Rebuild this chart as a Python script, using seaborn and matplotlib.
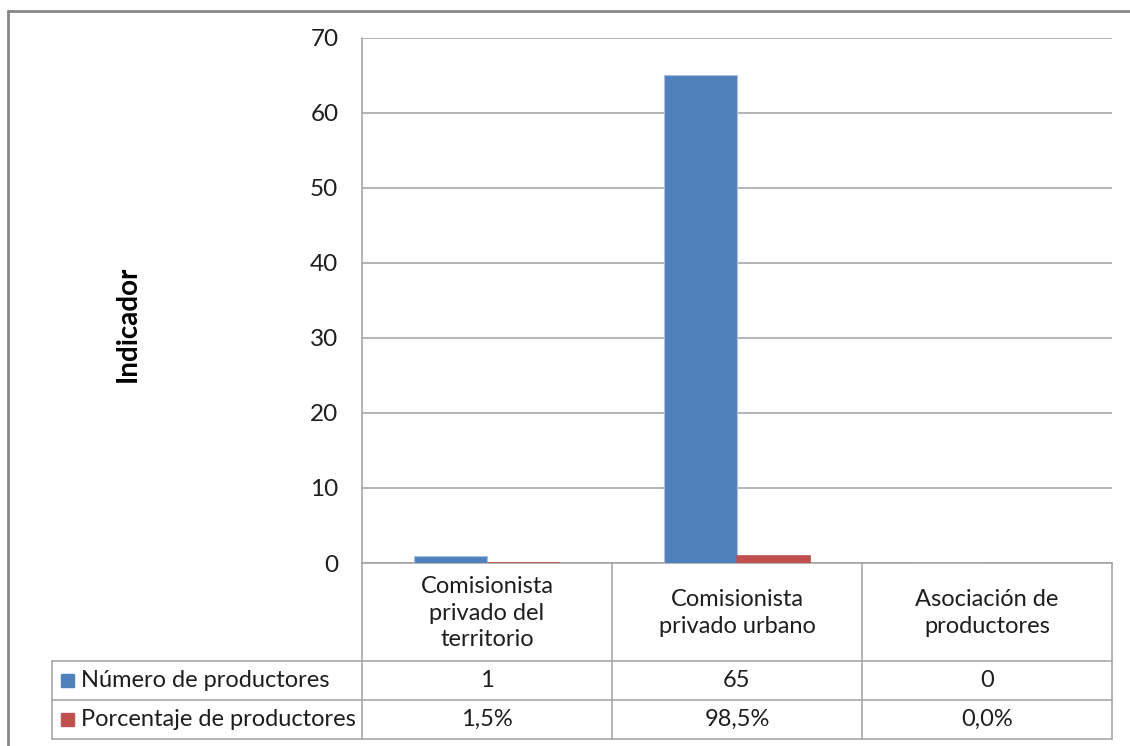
import numpy as np
import pandas as pd
import seaborn as sns
from matplotlib import pyplot as plt
from matplotlib.lines import Line2D
from matplotlib.patches import Rectangle
from matplotlib.transforms import blended_transform_factory

# datos del grafico
categorias = ["Comisionista privado del territorio",
              "Comisionista privado urbano",
              "Asociación de productores"]
etiquetas = ["Comisionista\nprivado del\nterritorio",
             "Comisionista\nprivado urbano",
             "Asociación de\nproductores"]
series = ["Número de productores", "Porcentaje de productores"]
numero = [1, 65, 0]
porcentaje = [0.015, 0.985, 0.0]
yticks = [0, 10, 20, 30, 40, 50, 60, 70]

colores = ["#4F81BD", "#C0504D"]
gris = "#A0A0A0"
texto = "#1E1E1E"

df = pd.DataFrame({
    "categoria": categorias * 2,
    "serie": [series[0]] * 3 + [series[1]] * 3,
    "valor": numero + porcentaje,
})

sns.set_style("white")
plt.rcParams['font.family'] = ['Lato', 'DejaVu Sans']

W, H = 1130, 746
fig = plt.figure(figsize=(W / 100, H / 100), dpi=100)
ax = fig.add_axes([362 / W, 1 - 563 / H, (1112 - 362) / W, (563 - 38) / H])

sns.barplot(data=df, x="categoria", y="valor", hue="serie", palette=colores,
            width=0.584, saturation=1, ax=ax, legend=False, edgecolor="none")
for p in ax.patches[:3]:
    p.set_edgecolor("#A9C0E0")
    p.set_linewidth(0.8)
    p.set_zorder(3)
for p, v in zip(ax.patches[3:6], porcentaje):
    if v > 0:
        p.set_edgecolor(colores[1])
        p.set_linewidth(1.2)
    p.set_zorder(3)

ax.set_ylim(0, 70)
ax.set_xlim(-0.5, 2.5)
ax.set_yticks(yticks)
ax.tick_params(axis="y", length=0, pad=17, labelsize=17.5, labelcolor=texto)
ax.set_xticks([])
ax.set_xlabel("")
ax.set_ylabel("")
ax.yaxis.grid(True, color=gris, linewidth=1.1)
ax.set_axisbelow(True)
for s in ["top", "right"]:
    ax.spines[s].set_visible(False)
for s in ["left", "bottom"]:
    ax.spines[s].set_color(gris)
    ax.spines[s].set_linewidth(1.1)
    ax.spines[s].set_zorder(2)

fig.text(128 / W, 1 - 324 / H, "Indicador", rotation=90, ha="center", va="center",
         fontsize=20, fontweight="bold", color="black")

# tabla de datos bajo el grafico
tr = blended_transform_factory(ax.transData, fig.transFigure)
def fy(y):
    return 1 - y / H

lc = dict(color=gris, linewidth=1.1)
for xb in [-0.5, 0.5, 1.5, 2.5]:
    fig.add_artist(Line2D([xb, xb], [fy(563), fy(739)], transform=tr, **lc))
x_izq = ax.transData.inverted().transform((52, 0))[0]
for yb in [661, 700, 739]:
    fig.add_artist(Line2D([x_izq, 2.5], [fy(yb), fy(yb)], transform=tr, **lc))
fig.add_artist(Line2D([52 / W, 52 / W], [fy(661), fy(739)], transform=fig.transFigure, **lc))

for i, et in enumerate(etiquetas):
    fig.text(i, fy(613), et, transform=tr, ha="center", va="center",
             fontsize=17, color=texto, linespacing=1.3)

filas = [[str(v) for v in numero],
         [f"{v * 100:.1f}%".replace(".", ",") for v in porcentaje]]
centros = [680.5, 719.5]
for r, (nombre, vals) in enumerate(zip(series, filas)):
    yc = fy(centros[r])
    fig.add_artist(Rectangle((61 / W, yc - 6.5 / H), 13 / W, 13 / H,
                             transform=fig.transFigure, color=colores[r]))
    fig.text(81 / W, yc, nombre, ha="left", va="center", fontsize=17, color=texto)
    for i, v in enumerate(vals):
        fig.text(i, yc, v, transform=tr, ha="center", va="center",
                 fontsize=17, color=texto)

# marco exterior
marco = dict(color="#888888", linewidth=2)
fig.add_artist(Line2D([8 / W, 8 / W], [0, fy(11)], transform=fig.transFigure, **marco))
fig.add_artist(Line2D([8 / W, 1], [fy(11), fy(11)], transform=fig.transFigure, **marco))

fig.savefig("out.png", dpi=100)
